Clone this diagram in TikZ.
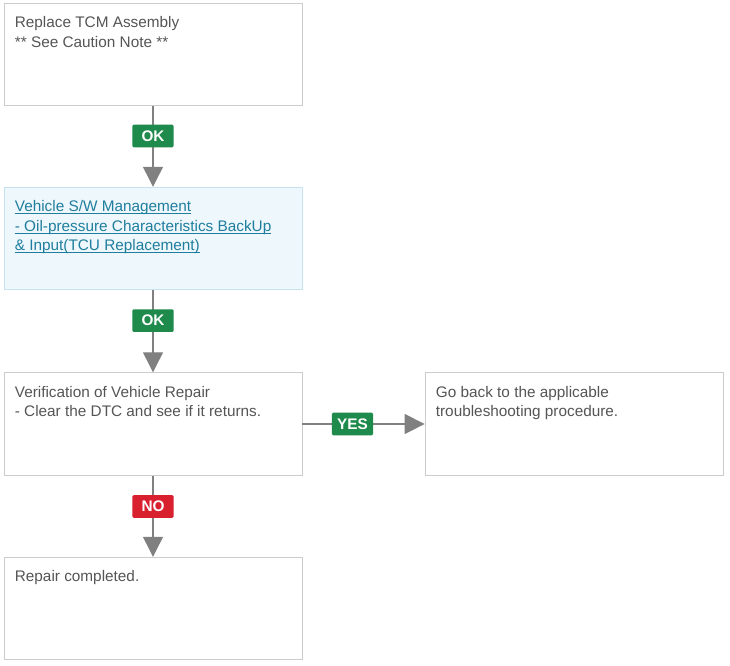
\documentclass[tikz,border=0pt]{standalone}
\usepackage{fontspec}
\setmainfont{Liberation Sans}
\usepackage{tikz}
\usetikzlibrary{arrows.meta}

\definecolor{boxline}{HTML}{CCCCCC}
\definecolor{linkline}{HTML}{C6E3EF}
\definecolor{linkfill}{HTML}{EEF7FB}
\definecolor{linktext}{HTML}{1F7E9E}
\definecolor{bodytext}{HTML}{555555}
\definecolor{okgreen}{HTML}{1E8A4C}
\definecolor{nored}{HTML}{D8202F}
\definecolor{arrowgray}{HTML}{808080}

\tikzset{
  stepbox/.style={draw=boxline, line width=0.6pt, fill=white, minimum width=223.5pt, minimum height=77pt, inner sep=0pt},
  linkbox/.style={stepbox, draw=linkline, fill=linkfill},
  steptext/.style={anchor=north west, align=left, inner sep=0pt, text=bodytext, font=\fontsize{11.5}{14.6}\selectfont},
  linktext/.style={steptext, text=linktext},
  flow/.style={draw=arrowgray, line width=1pt, -{Triangle[length=15pt,width=15pt]}},
  okbadge/.style={fill=okgreen, text=white, font=\bfseries\fontsize{11.5}{12}\selectfont, minimum width=31pt, minimum height=17pt, inner sep=0pt, rounded corners=1pt},
  nobadge/.style={okbadge, fill=nored}
}
\newcommand{\linkline}[1]{\underline{\smash{#1}}\vphantom{#1}}

\begin{document}
\begin{tikzpicture}[x=0.75pt,y=-0.75pt]
\useasboundingbox (0,0) rectangle (730,665);
% boxes
\node[stepbox] (tcm) at (153,54.5) {};
\node[linkbox] (sw) at (153,238.5) {};
\node[stepbox] (verify) at (153,424) {};
\node[stepbox] (goback) at (574,424) {};
\node[stepbox] (done) at (153,608.5) {};

% texts
\node[steptext] at ([shift={(11,13.5)}]tcm.north west) {Replace TCM Assembly\\** See Caution Note **};
\node[linktext] at ([shift={(11,13.5)}]sw.north west) {\linkline{Vehicle S/W Management}\\\linkline{- Oil-pressure Characteristics BackUp}\\\linkline{\& Input(TCU Replacement)}};
\node[steptext] at ([shift={(11,13.5)}]verify.north west) {Verification of Vehicle Repair\\- Clear the DTC and see if it returns.};
\node[steptext] at ([shift={(11,13.5)}]goback.north west) {Go back to the applicable\\troubleshooting procedure.};
\node[steptext] at ([shift={(11,13.5)}]done.north west) {Repair completed.};

% connectors
\draw[flow] (tcm) -- node[okbadge, pos=0.37] {OK} (sw);
\draw[flow] (sw) -- node[okbadge, pos=0.37] {OK} (verify);
\draw[flow] (verify) -- node[okbadge, pos=0.41] {YES} (goback);
\draw[flow] (verify) -- node[nobadge, pos=0.38] {NO} (done);
\end{tikzpicture}
\end{document}
